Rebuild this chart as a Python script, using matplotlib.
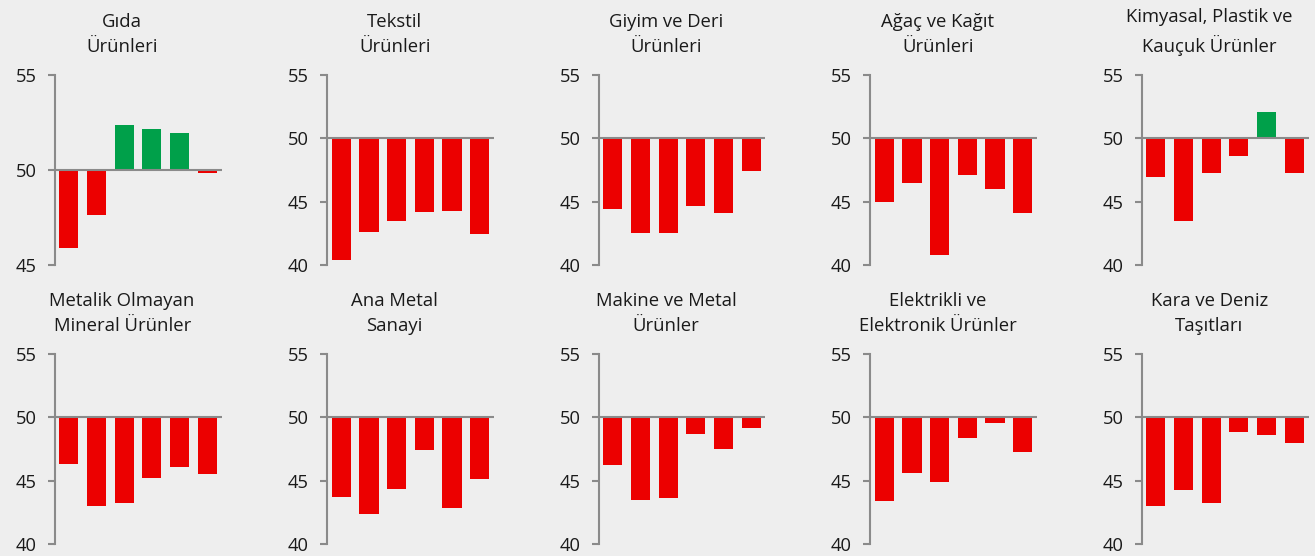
import numpy as np
import matplotlib.pyplot as plt

plt.rcParams["font.family"] = ["Open Sans", "DejaVu Sans"]

titles = [
    "Gıda\nÜrünleri",
    "Tekstil\nÜrünleri",
    "Giyim ve Deri\nÜrünleri",
    "Ağaç ve Kağıt\nÜrünleri",
    "Kimyasal, Plastik ve\nKauçuk Ürünler",
    "Metalik Olmayan\nMineral Ürünler",
    "Ana Metal\nSanayi",
    "Makine ve Metal\nÜrünler",
    "Elektrikli ve\nElektronik Ürünler",
    "Kara ve Deniz\nTaşıtları",
]

gida = [45.9, 47.65, 52.35, 52.17, 51.95, 49.86]
tekstil = [40.42, 42.63, 43.5, 44.21, 44.29, 42.47]
giyim = [44.45, 42.55, 42.55, 44.68, 44.13, 47.45]
agac = [45.0, 46.5, 40.82, 47.13, 46.03, 44.13]
kimyasal = [46.97, 43.5, 47.29, 48.63, 52.05, 47.29]
metalik = [46.35, 42.97, 43.2, 45.25, 46.04, 45.49]
ana_metal = [43.75, 42.33, 44.38, 47.45, 42.81, 45.17]
makine = [46.27, 43.44, 43.67, 48.71, 47.53, 49.19]
elektrikli = [43.36, 45.64, 44.93, 48.4, 49.58, 47.3]
kara = [42.97, 44.23, 43.2, 48.87, 48.64, 48.01]

series = [gida, tekstil, giyim, agac, kimyasal,
          metalik, ana_metal, makine, elektrikli, kara]

BG = "#eeeeee"
RED = "#ec0000"
GREEN = "#00a04a"
GRAY = "#8a8a8a"

fig = plt.figure(figsize=(13.15, 5.56), dpi=100, facecolor=BG)

W, H = 1315, 556
lefts = [54.5, 327, 598.5, 870, 1141.5]
tops = [75, 354]
ax_w, ax_h = 167, 190

for i, (title, vals) in enumerate(zip(titles, series)):
    r, c = divmod(i, 5)
    ax = fig.add_axes([lefts[c] / W, 1 - (tops[r] + ax_h) / H, ax_w / W, ax_h / H])
    ax.set_facecolor(BG)
    vals = np.array(vals)
    x = np.arange(len(vals))
    colors = [GREEN if v >= 50 else RED for v in vals]
    ax.bar(x, vals - 50, bottom=50, width=0.69, color=colors, zorder=2)
    ax.axhline(50, color=GRAY, lw=1.5, zorder=3)

    ymin = 45 if i == 0 else 40
    ax.set_ylim(ymin, 55)
    ax.set_yticks(np.arange(ymin, 56, 5))
    ax.set_xlim(-0.52, 5.52)
    ax.set_xticks([])

    for s in ["top", "right", "bottom"]:
        ax.spines[s].set_visible(False)
    ax.spines["left"].set_color(GRAY)
    ax.spines["left"].set_linewidth(1.5)
    ax.tick_params(axis="y", length=5, width=1.5, color=GRAY, pad=8,
                   labelsize=13.2, labelcolor="#1a1a1a")

    ax.text(0.405, 1.1, title, transform=ax.transAxes, ha="center",
            va="bottom", fontsize=13.3, color="#1a1a1a", linespacing=1.5)

fig.savefig("out.png", dpi=100, facecolor=BG)
